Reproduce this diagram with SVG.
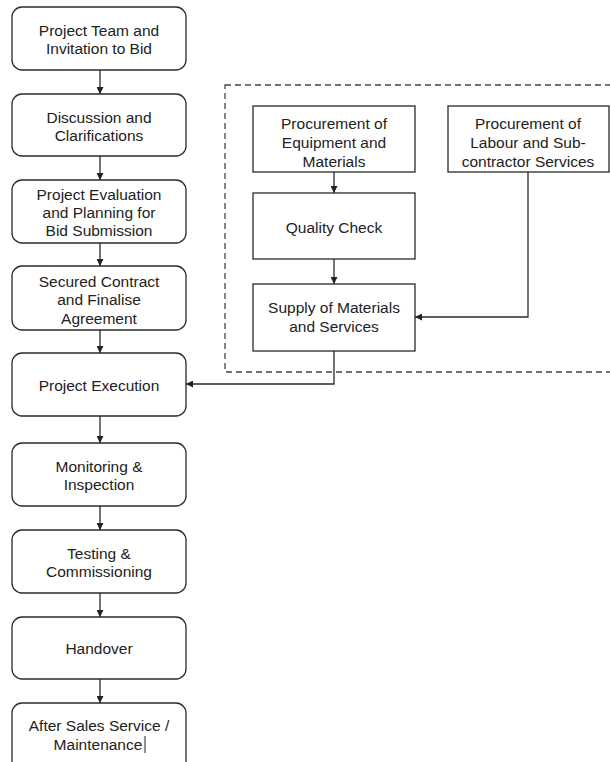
<svg xmlns="http://www.w3.org/2000/svg" width="610" height="762" viewBox="0 0 610 762">
<style>
.n{fill:#fff;stroke:#2a2a2a;stroke-width:1.3}
.t{font-family:"Liberation Sans",Arial,sans-serif;font-size:15.5px;fill:#222;text-anchor:middle}
.c{fill:none;stroke:#2a2a2a;stroke-width:1.3}
.d{fill:none;stroke:#444;stroke-width:1.3;stroke-dasharray:6,4}
</style>
<defs>
<marker id="a" viewBox="0 0 10 10" refX="10" refY="5" markerWidth="7" markerHeight="7" markerUnits="userSpaceOnUse" orient="auto">
<path d="M0,0 L10,5 L0,10 Z" fill="#222"/>
</marker>
</defs>
<rect class="d" x="225" y="85" width="400" height="287"/>
<g id="connectors">
<line class="c" x1="100" y1="70" x2="100" y2="94" marker-end="url(#a)"/>
<line class="c" x1="100" y1="156" x2="100" y2="180" marker-end="url(#a)"/>
<line class="c" x1="100" y1="243" x2="100" y2="266" marker-end="url(#a)"/>
<line class="c" x1="100" y1="330" x2="100" y2="353" marker-end="url(#a)"/>
<line class="c" x1="100" y1="416" x2="100" y2="443" marker-end="url(#a)"/>
<line class="c" x1="100" y1="506" x2="100" y2="530" marker-end="url(#a)"/>
<line class="c" x1="100" y1="593" x2="100" y2="617" marker-end="url(#a)"/>
<line class="c" x1="100" y1="679" x2="100" y2="703" marker-end="url(#a)"/>
<line class="c" x1="334" y1="172" x2="334" y2="193" marker-end="url(#a)"/>
<line class="c" x1="334" y1="259" x2="334" y2="284" marker-end="url(#a)"/>
<polyline class="c" points="528,172 528,317 415,317" marker-end="url(#a)"/>
<polyline class="c" points="334,351 334,384 186,384" marker-end="url(#a)"/>
</g>
<g id="n1"><rect class="n" x="12" y="7" width="174" height="63" rx="10"/><text class="t" x="99" y="35.5">Project Team and</text><text class="t" x="99" y="54">Invitation to Bid</text></g>
<g id="n2"><rect class="n" x="12" y="94" width="174" height="62" rx="10"/><text class="t" x="99" y="122.5">Discussion and</text><text class="t" x="99" y="140.5">Clarifications</text></g>
<g id="n3"><rect class="n" x="12" y="180" width="174" height="63" rx="10"/><text class="t" x="99" y="199.5">Project Evaluation</text><text class="t" x="99" y="217.5">and Planning for</text><text class="t" x="99" y="236">Bid Submission</text></g>
<g id="n4"><rect class="n" x="12" y="266" width="174" height="64" rx="10"/><text class="t" x="99" y="286.5">Secured Contract</text><text class="t" x="99" y="304.5">and Finalise</text><text class="t" x="99" y="323.5">Agreement</text></g>
<g id="n5"><rect class="n" x="12" y="353" width="174" height="63" rx="10"/><text class="t" x="99" y="390.5">Project Execution</text></g>
<g id="n6"><rect class="n" x="12" y="443" width="174" height="63" rx="10"/><text class="t" x="99" y="471.5">Monitoring &amp;</text><text class="t" x="99" y="489.5">Inspection</text></g>
<g id="n7"><rect class="n" x="12" y="530" width="174" height="63" rx="10"/><text class="t" x="99" y="558.5">Testing &amp;</text><text class="t" x="99" y="576.5">Commissioning</text></g>
<g id="n8"><rect class="n" x="12" y="617" width="174" height="62" rx="10"/><text class="t" x="99" y="653.5">Handover</text></g>
<g id="n9"><rect class="n" x="12" y="703" width="174" height="75" rx="10"/><text class="t" x="99" y="730.5">After Sales Service /</text><text class="t" x="98" y="749.5">Maintenance</text><line x1="145" y1="736" x2="145" y2="753" stroke="#222" stroke-width="1"/></g>
<g id="pa"><rect class="n" x="253" y="106" width="162" height="66"/><text class="t" x="334" y="129">Procurement of</text><text class="t" x="334" y="148">Equipment and</text><text class="t" x="334" y="167">Materials</text></g>
<g id="pb"><rect class="n" x="448" y="106" width="161" height="66"/><text class="t" x="528" y="129">Procurement of</text><text class="t" x="528" y="148">Labour and Sub-</text><text class="t" x="528" y="167">contractor Services</text></g>
<g id="qc"><rect class="n" x="253" y="193" width="162" height="66"/><text class="t" x="334" y="233">Quality Check</text></g>
<g id="sup"><rect class="n" x="253" y="284" width="162" height="67"/><text class="t" x="334" y="313">Supply of Materials</text><text class="t" x="334" y="332">and Services</text></g>
</svg>
